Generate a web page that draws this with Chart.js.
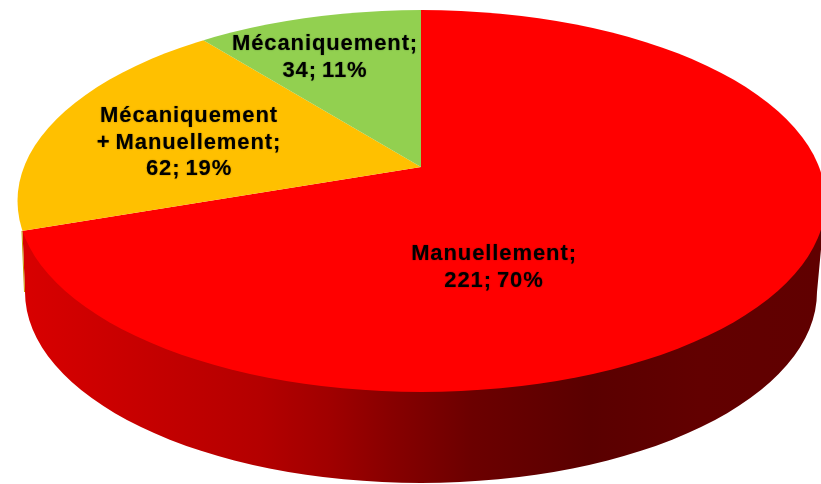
<!DOCTYPE html>
<html><head><meta charset="utf-8">
<style>html,body{margin:0;padding:0;background:#fff}canvas{display:block}</style>
<script src="https://cdn.jsdelivr.net/npm/chart.js@4"></script></head>
<body><canvas id="c" width="821" height="484"></canvas>
<script>
const categories = ["Manuellement", "Mécaniquement + Manuellement", "Mécaniquement"];
const values = [221, 62, 34];
const percents = [70, 19, 11];
const colors = ["#ff0000", "#ffc000", "#92d050"];

const apex = {x: 421, y: 167};
const top3d = {x: 421.5, y: 201, rx: 404, ry: 191};
const bottom3d = {x: 421, y: 292, rx: 396, ry: 191};
const aspect = 2.15, spreadY = 1.4;
const textSpots = [
  {x: 494, y: 254, lines: ["Manuellement;"]},
  {x: 189, y: 116, lines: ["Mécaniquement", "+ Manuellement;"]},
  {x: 325, y: 44, lines: ["Mécaniquement;"]}
];

const pie3d = {
  id: "pie3d",
  beforeDatasetsDraw(chart) {
    const ctx = chart.ctx, arcs = chart.getDatasetMeta(0).data;
    const a = arcs[0], sy = spreadY, sx = spreadY * aspect;
    // where the boundary of the first slice meets the rim of the top face
    const dx = Math.cos(a.endAngle) * sx, dy = Math.sin(a.endAngle) * sy;
    const ox = (apex.x - top3d.x) / top3d.rx, oy = (apex.y - top3d.y) / top3d.ry;
    const ux = dx / top3d.rx, uy = dy / top3d.ry;
    const A = ux*ux + uy*uy, B = 2*(ox*ux + oy*uy), C = ox*ox + oy*oy - 1;
    const t = (-B + Math.sqrt(B*B - 4*A*C)) / (2*A);
    const rimX = apex.x + dx*t, rimY = apex.y + dy*t;

    // side wall
    const x0 = 25, x1 = 821, stop = x => (x - x0) / (x1 - x0);
    const g = ctx.createLinearGradient(x0, 0, x1, 0);
    g.addColorStop(stop(25), "#d80000");
    g.addColorStop(stop(130), "#c80000");
    g.addColorStop(stop(260), "#b40000");
    g.addColorStop(stop(330), "#a00000");
    g.addColorStop(stop(390), "#880000");
    g.addColorStop(stop(470), "#6c0000");
    g.addColorStop(stop(590), "#5a0000");
    g.addColorStop(stop(700), "#620000");
    g.addColorStop(stop(821), "#600000");
    ctx.save();
    ctx.beginPath();
    ctx.moveTo(rimX, rimY);
    ctx.lineTo(bottom3d.x - bottom3d.rx, bottom3d.y);
    ctx.ellipse(bottom3d.x, bottom3d.y, bottom3d.rx, bottom3d.ry, 0, Math.PI, 0, true);
    ctx.lineTo(top3d.x + top3d.rx, top3d.y);
    ctx.closePath();
    ctx.fillStyle = g;
    ctx.fill();
    // sliver of the second slice's wall
    ctx.beginPath();
    ctx.moveTo(rimX - 0.5, rimY);
    ctx.lineTo(bottom3d.x - bottom3d.rx - 0.5, bottom3d.y);
    ctx.strokeStyle = "#c89600";
    ctx.lineWidth = 1;
    ctx.stroke();
    ctx.restore();

    // top face: slices radiate from the apex, trimmed by the rim
    ctx.save();
    ctx.beginPath();
    ctx.ellipse(top3d.x, top3d.y, top3d.rx, top3d.ry, 0, 0, Math.PI*2);
    ctx.clip();
    ctx.translate(apex.x, apex.y);
    ctx.scale(sx, sy);
    ctx.translate(-a.x, -a.y);
  },
  afterDatasetsDraw(chart) {
    const ctx = chart.ctx;
    ctx.restore();
    ctx.save();
    ctx.fillStyle = "#000";
    ctx.font = 'bold 22px "Liberation Sans", Arial, sans-serif';
    ctx.letterSpacing = "0.9px";
    ctx.wordSpacing = "-2px";
    ctx.textAlign = "center";
    ctx.textBaseline = "middle";
    ctx.shadowColor = "rgba(0,0,0,0.45)";
    ctx.shadowBlur = 1.5;
    textSpots.forEach((s, i) => {
      const lines = s.lines.concat([values[i] + "; " + percents[i] + "%"]);
      lines.forEach((ln, k) => ctx.fillText(ln, s.x, s.y + k * 26.5));
    });
    ctx.restore();
  }
};

new Chart(document.getElementById("c"), {
  type: "pie",
  data: {labels: categories, datasets: [{data: values, backgroundColor: colors, borderWidth: 0, clip: false}]},
  options: {
    responsive: false, animation: false,
    layout: {padding: 0},
    plugins: {legend: {display: false}, tooltip: {enabled: false}}
  },
  plugins: [pie3d]
});
</script></body></html>
